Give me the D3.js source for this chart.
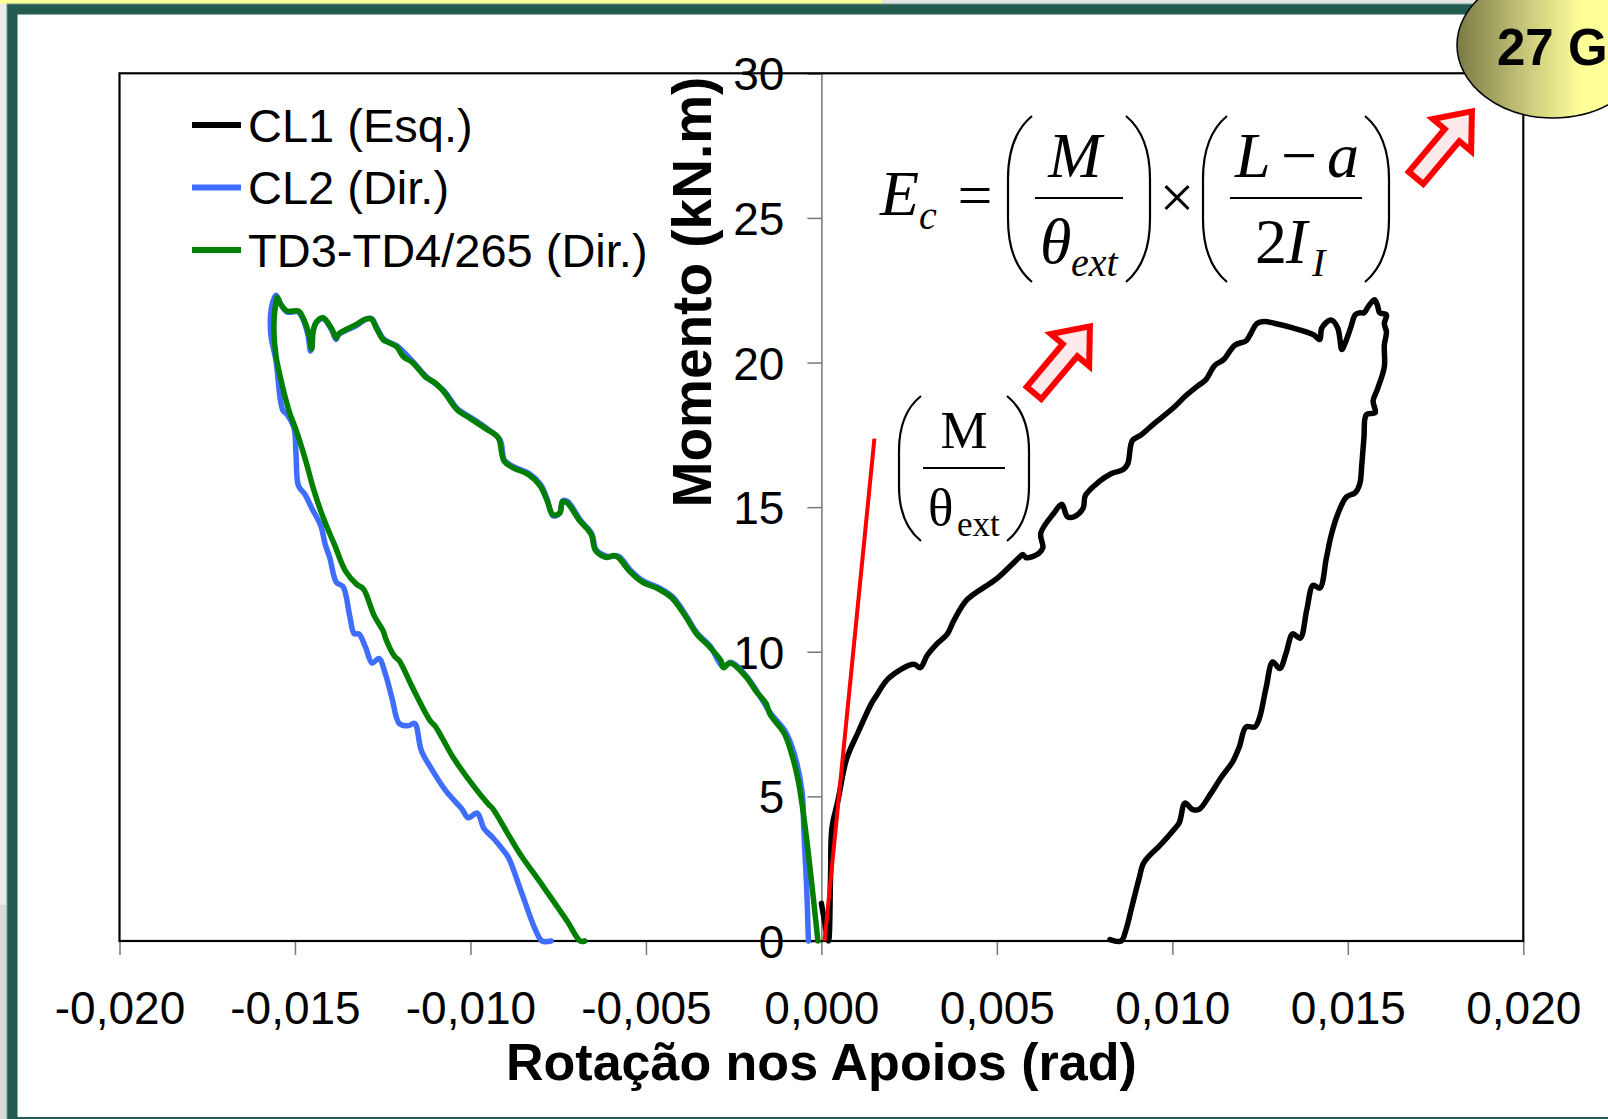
<!DOCTYPE html>
<html>
<head>
<meta charset="utf-8" />
<style>
  body { margin: 0; background: #fff; }
  text { font-family: "Liberation Sans", Arial, sans-serif; }
  .tick { font-size: 46px; fill: #000; }
  .title { font-size: 52px; font-weight: bold; fill: #000; }
  .legend { font-size: 47px; fill: #000; }
  .math { font-family: "Liberation Serif", "Times New Roman", serif; fill: #000; }
</style>
</head>
<body>
<div id="chart"></div>
<script src="https://cdn.jsdelivr.net/npm/d3@7/dist/d3.min.js"></script>
<script>
// rotation (rad), moment (kN.m)
var cl1 = [[0.00000,1.30],[0.00010,0.60],[0.00020,0.00],[0.00026,2.20],[0.00030,3.90],[0.00047,4.85],[0.00072,6.30],[0.00104,7.20],[0.00142,8.20],[0.00155,8.45],[0.00193,9.10],[0.00263,9.57],[0.00282,9.45],[0.00301,9.87],[0.00327,10.25],[0.00358,10.60],[0.00377,11.07],[0.00415,11.80],[0.00479,12.35],[0.00504,12.57],[0.00562,13.24],[0.00574,13.36],[0.00584,13.25],[0.00619,13.40],[0.00631,13.60],[0.00625,14.10],[0.00663,14.80],[0.00685,15.10],[0.00701,14.67],[0.00720,14.67],[0.00746,14.97],[0.00752,15.40],[0.00790,15.87],[0.00828,16.17],[0.00860,16.30],[0.00873,16.50],[0.00886,17.30],[0.00911,17.50],[0.00949,17.90],[0.01000,18.40],[0.01038,18.85],[0.01070,19.17],[0.01095,19.40],[0.01121,19.90],[0.01146,20.10],[0.01178,20.60],[0.01210,20.75],[0.01222,20.97],[0.01241,21.35],[0.01261,21.42],[0.01293,21.35],[0.01343,21.20],[0.01401,20.97],[0.01420,20.80],[0.01426,21.20],[0.01452,21.47],[0.01471,21.20],[0.01483,20.45],[0.01490,20.60],[0.01508,21.20],[0.01521,21.65],[0.01534,21.72],[0.01546,21.72],[0.01559,21.95],[0.01576,22.17],[0.01585,21.95],[0.01591,21.72],[0.01610,21.65],[0.01604,21.35],[0.01610,21.05],[0.01604,20.60],[0.01604,19.85],[0.01585,19.10],[0.01572,18.67],[0.01578,18.27],[0.01553,18.20],[0.01546,17.40],[0.01540,16.50],[0.01534,15.80],[0.01521,15.50],[0.01496,15.35],[0.01471,14.75],[0.01452,14.00],[0.01439,13.25],[0.01420,12.20],[0.01401,12.30],[0.01383,11.45],[0.01364,10.47],[0.01343,10.62],[0.01324,9.95],[0.01306,9.42],[0.01286,9.65],[0.01267,8.75],[0.01248,7.70],[0.01235,7.40],[0.01210,7.40],[0.01191,6.72],[0.01172,6.20],[0.01140,5.67],[0.01108,5.07],[0.01076,4.55],[0.01057,4.55],[0.01036,4.77],[0.01020,4.10],[0.01006,3.87],[0.00962,3.27],[0.00936,2.97],[0.00917,2.67],[0.00905,2.15],[0.00886,1.25],[0.00867,0.35],[0.00854,0.00],[0.00822,0.05]];

var cl2 = [[-0.00037,0.00],[-0.00042,1.85],[-0.00050,3.80],[-0.00055,5.15],[-0.00078,6.50],[-0.00103,7.25],[-0.00144,7.86],[-0.00183,8.62],[-0.00215,9.18],[-0.00258,9.64],[-0.00280,9.48],[-0.00317,10.20],[-0.00355,10.66],[-0.00387,11.28],[-0.00424,11.90],[-0.00462,12.21],[-0.00507,12.44],[-0.00545,12.83],[-0.00578,13.30],[-0.00610,13.30],[-0.00642,13.53],[-0.00654,14.07],[-0.00686,14.54],[-0.00723,15.19],[-0.00737,15.22],[-0.00746,14.78],[-0.00765,14.70],[-0.00782,15.30],[-0.00800,15.78],[-0.00833,16.16],[-0.00877,16.40],[-0.00903,16.62],[-0.00916,17.33],[-0.00960,17.78],[-0.00999,18.10],[-0.01037,18.40],[-0.01075,19.02],[-0.01126,19.52],[-0.01164,20.03],[-0.01209,20.57],[-0.01247,20.81],[-0.01266,21.19],[-0.01282,21.52],[-0.01300,21.48],[-0.01325,21.28],[-0.01376,20.96],[-0.01383,20.80],[-0.01396,21.14],[-0.01421,21.52],[-0.01440,21.36],[-0.01450,21.00],[-0.01456,20.40],[-0.01463,20.95],[-0.01478,21.52],[-0.01491,21.75],[-0.01523,21.75],[-0.01542,22.05],[-0.01554,22.33],[-0.01567,21.90],[-0.01569,20.99],[-0.01554,20.06],[-0.01535,18.36],[-0.01522,18.20],[-0.01503,17.75],[-0.01497,16.82],[-0.01490,15.74],[-0.01471,15.43],[-0.01452,14.96],[-0.01426,14.34],[-0.01414,13.72],[-0.01401,13.26],[-0.01382,12.40],[-0.01363,12.25],[-0.01344,11.24],[-0.01331,10.62],[-0.01318,10.62],[-0.01299,10.16],[-0.01280,9.61],[-0.01261,9.77],[-0.01242,9.22],[-0.01223,8.37],[-0.01203,7.52],[-0.01178,7.44],[-0.01159,7.52],[-0.01140,6.59],[-0.01108,5.89],[-0.01070,5.19],[-0.01025,4.57],[-0.01006,4.26],[-0.00981,4.42],[-0.00961,3.88],[-0.00936,3.57],[-0.00904,3.10],[-0.00891,2.87],[-0.00853,1.63],[-0.00815,0.39],[-0.00796,0.00],[-0.00770,0.00]];

var td3 = [[-0.00010,0.00],[-0.00029,2.15],[-0.00048,4.10],[-0.00067,5.60],[-0.00088,6.60],[-0.00107,7.20],[-0.00146,7.83],[-0.00158,8.22],[-0.00184,8.60],[-0.00216,9.15],[-0.00260,9.61],[-0.00279,9.45],[-0.00286,9.69],[-0.00318,10.16],[-0.00356,10.62],[-0.00388,11.24],[-0.00426,11.86],[-0.00464,12.17],[-0.00509,12.40],[-0.00547,12.79],[-0.00579,13.26],[-0.00592,13.33],[-0.00611,13.26],[-0.00643,13.49],[-0.00655,14.03],[-0.00668,14.26],[-0.00687,14.50],[-0.00725,15.15],[-0.00738,15.19],[-0.00745,14.81],[-0.00764,14.73],[-0.00783,15.27],[-0.00802,15.74],[-0.00834,16.12],[-0.00878,16.36],[-0.00904,16.59],[-0.00917,17.29],[-0.00923,17.44],[-0.00961,17.75],[-0.01000,18.06],[-0.01038,18.37],[-0.01076,18.99],[-0.01101,19.30],[-0.01127,19.49],[-0.01165,20.00],[-0.01191,20.20],[-0.01210,20.54],[-0.01235,20.70],[-0.01248,20.78],[-0.01267,21.16],[-0.01282,21.50],[-0.01299,21.50],[-0.01325,21.32],[-0.01375,21.00],[-0.01382,20.85],[-0.01395,21.16],[-0.01420,21.55],[-0.01439,21.40],[-0.01448,21.09],[-0.01452,20.47],[-0.01461,21.01],[-0.01477,21.55],[-0.01490,21.78],[-0.01522,21.78],[-0.01541,22.02],[-0.01550,22.25],[-0.01556,21.94],[-0.01560,21.16],[-0.01554,20.23],[-0.01535,19.15],[-0.01516,18.29],[-0.01497,17.67],[-0.01471,16.67],[-0.01446,15.58],[-0.01420,14.65],[-0.01388,13.72],[-0.01356,12.79],[-0.01324,12.33],[-0.01305,12.17],[-0.01274,11.24],[-0.01248,10.70],[-0.01242,10.47],[-0.01216,9.84],[-0.01203,9.69],[-0.01165,8.76],[-0.01114,7.60],[-0.01101,7.44],[-0.01050,6.36],[-0.01000,5.50],[-0.00949,4.73],[-0.00936,4.57],[-0.00898,3.80],[-0.00859,3.02],[-0.00796,1.94],[-0.00725,0.70],[-0.00687,0.00],[-0.00674,0.00]];

// initial slope M / theta_ext
var slopeLine = [[0.00009,0.00],[0.00151,17.37]];

var xTicks = [-0.020,-0.015,-0.010,-0.005,0.000,0.005,0.010,0.015,0.020];
var yTicks = [0,5,10,15,20,25,30];
var seriesNames = ["CL1 (Esq.)","CL2 (Dir.)","TD3-TD4/265 (Dir.)"];
var seriesColors = ["#000000","#3f6dff","#007f00"];

(function() {
var W = 1608, H = 1119;
var svg = d3.select('#chart').append('svg')
  .attr('width', W).attr('height', H)
  .style('display', 'block');

// slide background / frame
svg.append('rect').attr('x', 0).attr('y', 0).attr('width', W).attr('height', H).attr('fill', '#ffffff');
svg.append('rect').attr('x', 0).attr('y', 0).attr('width', 7).attr('height', 905).attr('fill', '#ebebeb');
svg.append('rect').attr('x', 0).attr('y', 905).attr('width', 7).attr('height', 214).attr('fill', '#d9d9d9');
svg.append('rect').attr('x', 0).attr('y', 0).attr('width', 882).attr('height', 4).attr('fill', '#ffff99');
svg.append('rect').attr('x', 882).attr('y', 0).attr('width', 726).attr('height', 4).attr('fill', '#e3e3e3');
svg.append('rect').attr('x', 7).attr('y', 4).attr('width', 1640).attr('height', 1140)
  .attr('fill', '#235b51').attr('stroke', '#6f9a92').attr('stroke-width', 1);
svg.append('rect').attr('x', 17.5).attr('y', 14.5).attr('width', 1620).attr('height', 1102.5).attr('fill', '#ffffff');

var plotLeft = 119.5, plotRight = 1523.3, plotTop = 73.3, plotBottom = 941;
var x = d3.scaleLinear().domain([-0.020, 0.020]).range([plotLeft, plotRight]);
var y = d3.scaleLinear().domain([0, 30]).range([plotBottom, plotTop]);

var fmt = function(d) { return d3.format('.3f')(d).replace('−', '-').replace('.', ','); };

// x axis (bottom)
var xAxis = svg.append('g')
  .attr('transform', 'translate(0,' + plotBottom + ')')
  .call(d3.axisBottom(x).tickValues(xTicks).tickSize(14).tickPadding(36).tickFormat(fmt));
xAxis.select('.domain').remove();
xAxis.selectAll('line').attr('stroke', '#777').attr('stroke-width', 1.5);
xAxis.selectAll('text').attr('class', 'tick').attr('font-family', null).attr('font-size', null);

// y axis at x = 0
var yAxis = svg.append('g')
  .attr('transform', 'translate(' + x(0) + ',0)')
  .call(d3.axisLeft(y).tickValues(yTicks).tickSize(14).tickPadding(23).tickFormat(d3.format('d')));
yAxis.select('.domain').attr('stroke', '#777').attr('stroke-width', 1.5);
yAxis.selectAll('line').attr('stroke', '#777').attr('stroke-width', 1.5);
yAxis.selectAll('text').attr('class', 'tick').attr('font-family', null).attr('font-size', null).attr('dy', '0.36em');

// plot area border
svg.append('rect').attr('x', plotLeft).attr('y', plotTop)
  .attr('width', plotRight - plotLeft).attr('height', plotBottom - plotTop)
  .attr('fill', 'none').attr('stroke', '#000').attr('stroke-width', 2.2);

// titles
svg.append('text').attr('class', 'title')
  .attr('x', x(0)).attr('y', 1080).attr('text-anchor', 'middle')
  .text('Rotação nos Apoios (rad)');
svg.append('text').attr('class', 'title')
  .attr('transform', 'translate(711,292) rotate(-90)').attr('text-anchor', 'middle')
  .style('font-size', '55px')
  .text('Momento (kN.m)');

// curves
var line = d3.line()
  .x(function(d) { return x(d[0]); })
  .y(function(d) { return y(d[1]); })
  .curve(d3.curveCatmullRom.alpha(0.5));

var series = [cl2, td3, cl1];
var colorsInOrder = [seriesColors[1], seriesColors[2], seriesColors[0]];
svg.selectAll('path.serie')
  .data(series)
  .enter()
  .append('path')
  .attr('class', 'serie')
  .attr('d', line)
  .attr('fill', 'none')
  .attr('stroke', function(d, i) { return colorsInOrder[i]; })
  .attr('stroke-width', 5.5)
  .attr('stroke-linejoin', 'round')
  .attr('stroke-linecap', 'round');

svg.append('path')
  .datum(slopeLine)
  .attr('d', d3.line().x(function(d) { return x(d[0]); }).y(function(d) { return y(d[1]); }))
  .attr('stroke', '#ff0000').attr('stroke-width', 4).attr('fill', 'none');

// legend
var legend = svg.append('g').selectAll('g')
  .data(seriesNames)
  .enter()
  .append('g')
  .attr('transform', function(d, i) { return 'translate(192,' + (125 + i * 62.5) + ')'; });
legend.append('line')
  .attr('x1', 0).attr('x2', 49).attr('y1', 0).attr('y2', 0)
  .attr('stroke', function(d, i) { return seriesColors[i]; })
  .attr('stroke-width', 6);
legend.append('text')
  .attr('class', 'legend')
  .attr('x', 56).attr('y', 0).attr('dy', '0.36em')
  .text(function(d) { return d; });

// big parentheses
function paren(x0, x1, y0, y1) {
  var h = y1 - y0;
  return 'M' + x1 + ',' + y0 +
    ' Q' + x0 + ',' + (y0 + h * 0.12) + ' ' + x0 + ',' + (y0 + h * 0.38) +
    ' L' + x0 + ',' + (y1 - h * 0.38) +
    ' Q' + x0 + ',' + (y1 - h * 0.12) + ' ' + x1 + ',' + y1;
}
function addParens(g, lx, rx, w, y0, y1) {
  g.append('path').attr('d', paren(lx, lx + w, y0, y1)).attr('fill', 'none').attr('stroke', '#000').attr('stroke-width', 2.2);
  g.append('path').attr('d', paren(rx, rx - w, y0, y1)).attr('fill', 'none').attr('stroke', '#000').attr('stroke-width', 2.2);
}

// formula 1: Ec = (M/theta_ext) x ((L-a)/(2 I_I))
var f1 = svg.append('g');
f1.append('text').attr('class', 'math').attr('x', 880).attr('y', 215).attr('font-size', 64).attr('font-style', 'italic').text('E');
f1.append('text').attr('class', 'math').attr('x', 919).attr('y', 229).attr('font-size', 40).attr('font-style', 'italic').text('c');
f1.append('text').attr('class', 'math').attr('x', 975).attr('y', 216).attr('font-size', 62).attr('text-anchor', 'middle').text('=');
addParens(f1, 1008, 1150, 24, 116, 282);
f1.append('text').attr('class', 'math').attr('x', 1075).attr('y', 177).attr('font-size', 64).attr('font-style', 'italic').attr('text-anchor', 'middle').text('M');
f1.append('line').attr('x1', 1035).attr('x2', 1123).attr('y1', 198).attr('y2', 198).attr('stroke', '#000').attr('stroke-width', 2);
f1.append('text').attr('class', 'math').attr('x', 1040).attr('y', 263).attr('font-size', 64).attr('font-style', 'italic').text('θ');
f1.append('text').attr('class', 'math').attr('x', 1071).attr('y', 276).attr('font-size', 40).attr('font-style', 'italic').text('ext');
f1.append('text').attr('class', 'math').attr('x', 1177).attr('y', 218).attr('font-size', 62).attr('text-anchor', 'middle').text('×');
addParens(f1, 1203, 1389, 24, 116, 282);
f1.append('text').attr('class', 'math').attr('x', 1235).attr('y', 177).attr('font-size', 64).attr('font-style', 'italic').text('L');
f1.append('text').attr('class', 'math').attr('x', 1299).attr('y', 177).attr('font-size', 64).attr('text-anchor', 'middle').text('−');
f1.append('text').attr('class', 'math').attr('x', 1327).attr('y', 177).attr('font-size', 64).attr('font-style', 'italic').text('a');
f1.append('line').attr('x1', 1230).attr('x2', 1362).attr('y1', 198).attr('y2', 198).attr('stroke', '#000').attr('stroke-width', 2);
f1.append('text').attr('class', 'math').attr('x', 1255).attr('y', 263).attr('font-size', 64).text('2');
f1.append('text').attr('class', 'math').attr('x', 1286).attr('y', 263).attr('font-size', 64).attr('font-style', 'italic').text('I');
f1.append('text').attr('class', 'math').attr('x', 1312).attr('y', 276).attr('font-size', 40).attr('font-style', 'italic').text('I');

// formula 2: (M/theta_ext)
var f2 = svg.append('g');
addParens(f2, 899, 1029, 22, 396, 541);
f2.append('text').attr('class', 'math').attr('x', 964).attr('y', 448).attr('font-size', 53).attr('text-anchor', 'middle').text('M');
f2.append('line').attr('x1', 923).attr('x2', 1005).attr('y1', 468).attr('y2', 468).attr('stroke', '#000').attr('stroke-width', 2);
f2.append('text').attr('class', 'math').attr('x', 928).attr('y', 525).attr('font-size', 53).text('θ');
f2.append('text').attr('class', 'math').attr('x', 957).attr('y', 536).attr('font-size', 35).text('ext');

// red arrows
var arrowShape = [[0,-9.5],[56,-9.5],[56,-25],[87,0],[56,25],[56,9.5],[0,9.5]];
var arrowPos = [[1034, 393], [1416, 178]];
svg.selectAll('polygon.arrow')
  .data(arrowPos)
  .enter()
  .append('polygon')
  .attr('class', 'arrow')
  .attr('points', arrowShape.map(function(p) { return p.join(','); }).join(' '))
  .attr('transform', function(d) { return 'translate(' + d[0] + ',' + d[1] + ') rotate(-50)'; })
  .attr('fill', '#fde8ea')
  .attr('stroke', '#ff0000')
  .attr('stroke-width', 6)
  .attr('stroke-linejoin', 'miter');

// slide number badge
var defs = svg.append('defs');
var grad = defs.append('linearGradient').attr('id', 'badge').attr('x1', '0%').attr('x2', '100%').attr('y1', '0%').attr('y2', '0%');
grad.append('stop').attr('offset', '0%').attr('stop-color', '#7a7a45');
grad.append('stop').attr('offset', '35%').attr('stop-color', '#c6c67a');
grad.append('stop').attr('offset', '65%').attr('stop-color', '#ffff99');
grad.append('stop').attr('offset', '100%').attr('stop-color', '#ffff99');
svg.append('ellipse').attr('cx', 1553).attr('cy', 45).attr('rx', 96).attr('ry', 73)
  .attr('fill', 'url(#badge)').attr('stroke', '#000').attr('stroke-width', 1.5);
svg.append('text').attr('x', 1497).attr('y', 65).attr('font-size', 51).attr('font-weight', 'bold').attr('fill', '#000').text('27 G');
})();
</script>
</body>
</html>
